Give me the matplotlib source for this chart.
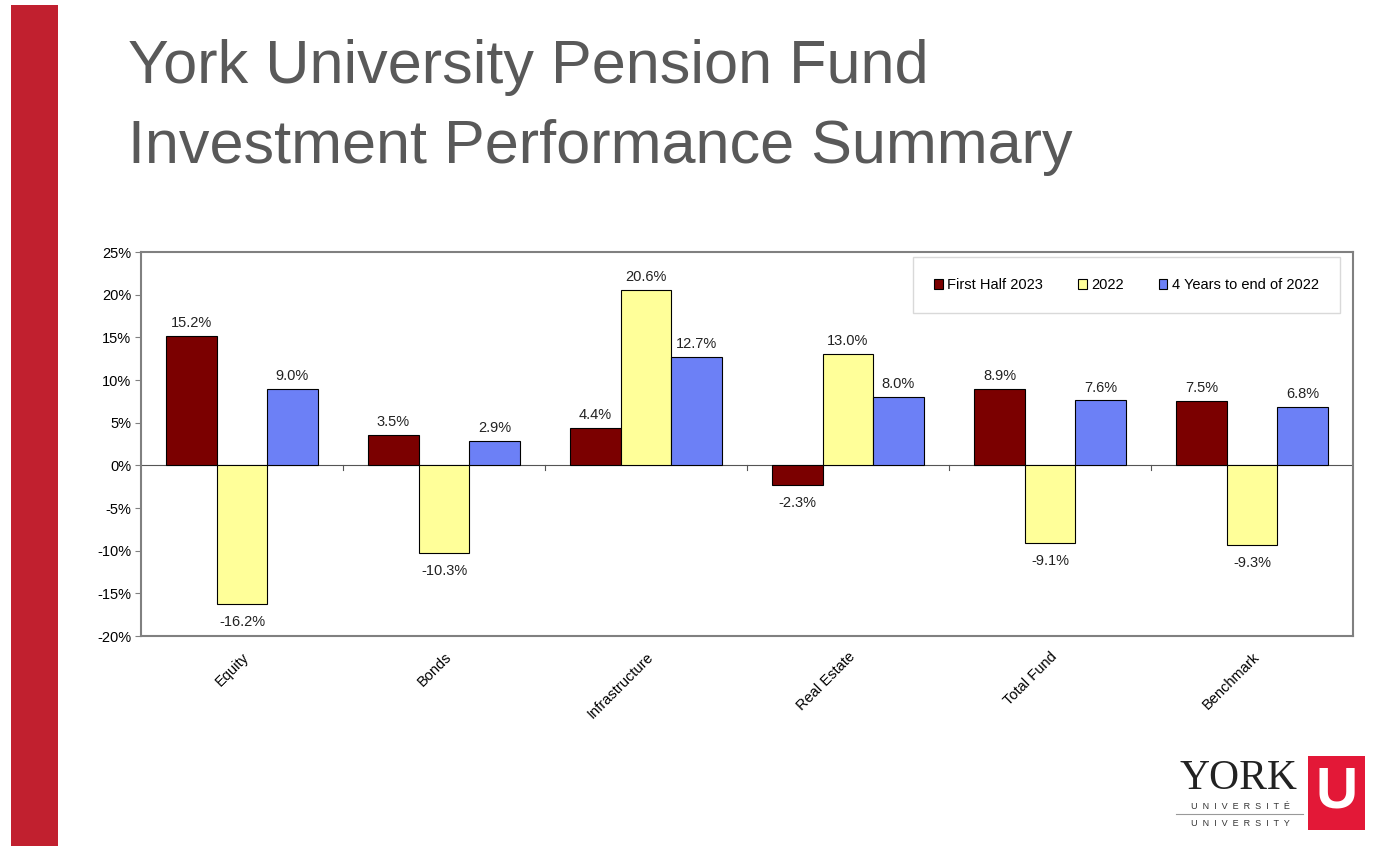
import matplotlib.pyplot as plt
from matplotlib.patches import Rectangle
import numpy as np

categories = ['Equity', 'Bonds', 'Infrastructure', 'Real Estate', 'Total Fund', 'Benchmark']
series_names = ['First Half 2023', '2022', '4 Years to end of 2022']
first_half_2023 = [15.2, 3.5, 4.4, -2.3, 8.9, 7.5]
year_2022 = [-16.2, -10.3, 20.6, 13.0, -9.1, -9.3]
four_years = [9.0, 2.9, 12.7, 8.0, 7.6, 6.8]
y_ticks = [-20, -15, -10, -5, 0, 5, 10, 15, 20, 25]

colors = ['#7B0000', '#FFFF99', '#6C80F6']
font = ['Liberation Sans', 'DejaVu Sans']
plt.rcParams['font.family'] = font

W, H = 1384, 846
fig = plt.figure(figsize=(W / 100, H / 100), dpi=100)
fig.patch.set_facecolor('white')

# red band on the left of the slide
fig.add_artist(Rectangle((11 / W, 0), 47 / W, 1 - 5 / H, transform=fig.transFigure,
                         facecolor='#C1202F', edgecolor='none'))

# slide title
fig.text(128 / W, 1 - 68 / H, 'York University Pension Fund', fontsize=44,
         color='#595959', va='center', ha='left')
fig.text(128 / W, 1 - 148 / H, 'Investment Performance Summary', fontsize=44,
         color='#595959', va='center', ha='left')

# chart area (pixel box 141..1353 x 252..636)
ax = fig.add_axes([141 / W, 1 - 636 / H, 1212 / W, 384 / H])
x = np.arange(len(categories))
width = 0.25
series = [first_half_2023, year_2022, four_years]
for i, (vals, name, c) in enumerate(zip(series, series_names, colors)):
    pos = x + (i - 1) * width
    ax.bar(pos, vals, width, color=c, edgecolor='black', linewidth=0.8,
           label=name, zorder=2)
    for xp, v in zip(pos, vals):
        off = 0.7 if v >= 0 else -1.3
        ax.text(xp, v + off, f'{v:.1f}%', ha='center',
                va='bottom' if v >= 0 else 'top', fontsize=10.5, color='#222222')

ax.set_xlim(-0.5, len(categories) - 0.5)
ax.set_ylim(-20, 25)
ax.set_yticks(y_ticks)
ax.set_yticklabels([f'{t}%' for t in y_ticks], fontsize=10.5)
ax.tick_params(axis='y', length=4, color='#808080', pad=3)
for s in ax.spines.values():
    s.set_color('#808080')
    s.set_linewidth(1.5)

# zero line with category-boundary ticks
ax.axhline(0, color='#555555', linewidth=0.8, zorder=1)
for b in np.arange(0.5, len(categories) - 0.5, 1):
    ax.plot([b, b], [0, -0.6], color='#555555', linewidth=0.8, zorder=1)

ax.set_xticks(x)
ax.set_xticklabels(categories, rotation=45, ha='right', rotation_mode='anchor',
                   fontsize=10.5)
ax.tick_params(axis='x', length=0, pad=10)

leg = ax.legend(loc='upper right', bbox_to_anchor=(1 - 13 / 1212, 1 - 5 / 384), ncol=3,
                fontsize=10.5, frameon=True, fancybox=False, borderaxespad=0,
                handlelength=0.6, handleheight=0.6, handletextpad=0.3,
                columnspacing=2.4, borderpad=1.45)
leg.get_frame().set_edgecolor('#D0D0D0')
leg.get_frame().set_linewidth(1.0)

# York logo
fig.text(1238 / W, 1 - 779 / H, 'YORK', fontsize=30, family=['Liberation Serif', 'DejaVu Serif'],
         color='#222222', ha='center', va='center')
fig.text(1240 / W, 1 - 806 / H, 'U  N  I  V  E  R  S  I  T  É', fontsize=6.5,
         color='#333333', ha='center', va='center')
fig.add_artist(plt.Line2D([1176 / W, 1303 / W], [1 - 814 / H, 1 - 814 / H],
                          transform=fig.transFigure, color='#999999', linewidth=0.8))
fig.text(1240 / W, 1 - 823 / H, 'U  N  I  V  E  R  S  I  T  Y', fontsize=6.5,
         color='#333333', ha='center', va='center')
fig.add_artist(Rectangle((1308 / W, 1 - 830 / H), 57 / W, 74 / H, transform=fig.transFigure,
                         facecolor='#E31837', edgecolor='none'))
fig.text(1337 / W, 1 - 792 / H, 'U', fontsize=42, fontweight='bold', color='white',
         ha='center', va='center')

fig.savefig('out.png', dpi=100, facecolor='white')
